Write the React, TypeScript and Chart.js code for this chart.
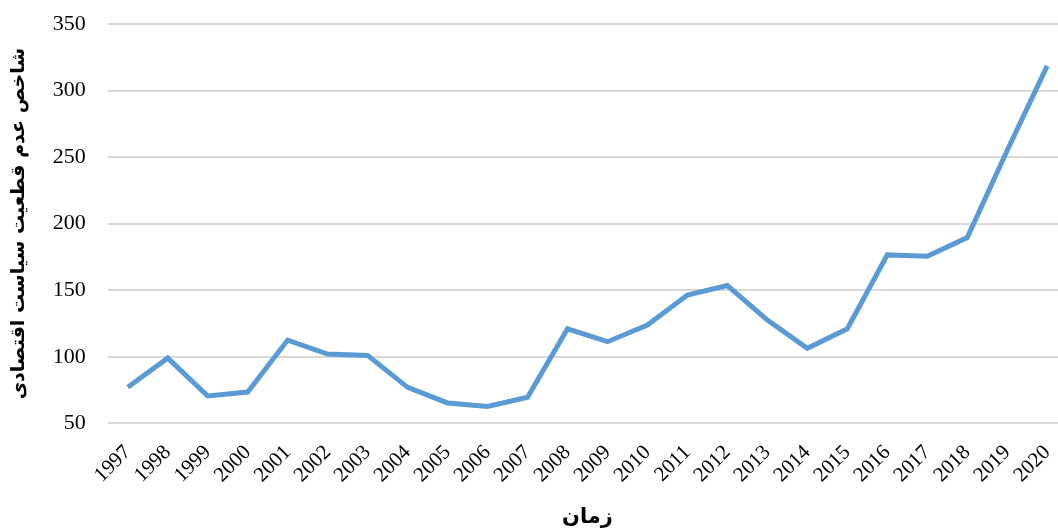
import React, { useEffect, useRef } from "react";
import { Chart, registerables } from "chart.js";

Chart.register(...registerables);

const years: string[] = ["1997","1998","1999","2000","2001","2002","2003","2004","2005","2006","2007","2008","2009","2010","2011","2012","2013","2014","2015","2016","2017","2018","2019","2020"];
const epuValues: number[] = [77, 99, 70.5, 73.5, 112.5, 102, 101, 77, 65.3, 62.6, 69.6, 121, 111.3, 123.8, 146.3, 153.5, 127.5, 106.3, 121, 176.5, 175.5, 189.5, 255, 318.5];
const yTicks: number[] = [50, 100, 150, 200, 250, 300, 350];
const xTitle = "زمان";
const yTitle = "شاخص عدم قطعیت سیاست اقتصادی";

const CANVAS_W = 1082;

export default function App() {
  const ref = useRef<HTMLCanvasElement | null>(null);
  useEffect(() => {
    document.body.style.margin = "0";
    if (!ref.current) return;
    const chart = new Chart(ref.current, {
      type: "line",
      data: {
        labels: years,
        datasets: [
          {
            data: epuValues,
            borderColor: "#5B9BD5",
            backgroundColor: "#5B9BD5",
            borderWidth: 5,
            pointRadius: 0,
            tension: 0,
            fill: false,
          },
        ],
      },
      options: {
        animation: false,
        responsive: false,
        maintainAspectRatio: false,
        layout: { padding: { top: 24, right: 0, left: 8, bottom: 0 } },
        plugins: { legend: { display: false }, tooltip: { enabled: false } },
        scales: {
          x: {
            offset: true,
            grid: { display: false, drawTicks: false },
            border: { display: false },
            ticks: {
              color: "#000",
              font: { family: "'Liberation Serif', 'Times New Roman', serif", size: 21 },
              maxRotation: 45,
              minRotation: 45,
              autoSkip: false,
              padding: 17,
            },
            title: {
              display: true,
              text: xTitle,
              color: "#000",
              font: { family: "'DejaVu Sans', sans-serif", size: 21, weight: "bold" },
              padding: { top: 0, bottom: 0 },
            },
          },
          y: {
            min: 50,
            max: 350,
            afterBuildTicks: (axis: any) => {
              axis.ticks = yTicks.map((v) => ({ value: v }));
            },
            grid: { color: "#d9d9d9", lineWidth: 2, drawTicks: true, tickLength: 20, tickColor: "rgba(0,0,0,0)" },
            border: { display: false },
            ticks: {
              color: "#000",
              font: { family: "'Liberation Serif', 'Times New Roman', serif", size: 22 },
              padding: 2,
            },
            title: {
              display: true,
              text: yTitle,
              color: "#000",
              font: { family: "'DejaVu Sans', sans-serif", size: 19, weight: "bold" },
              padding: { top: 0, bottom: 20 },
            },
          },
        },
      },
    });
    return () => chart.destroy();
  }, []);
  return (
    <div style={{ position: "absolute", left: 0, top: 0, width: 1058, height: 530, overflow: "hidden", background: "#fff" }}>
      <canvas ref={ref} width={CANVAS_W} height={530} style={{ width: CANVAS_W, height: 530, display: "block" }} />
    </div>
  );
}
